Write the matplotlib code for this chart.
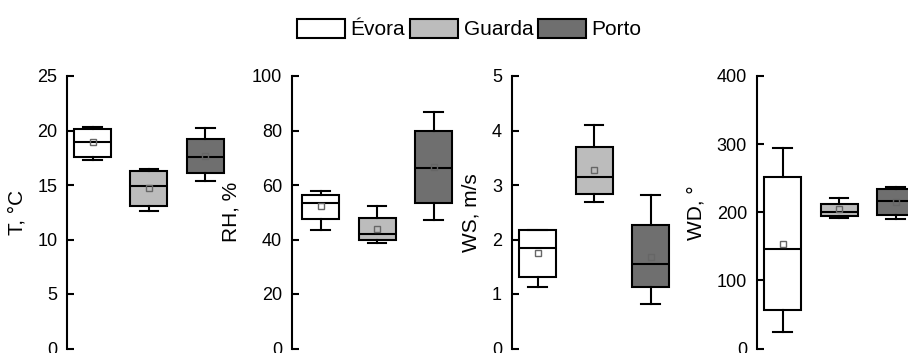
import matplotlib.pyplot as plt
from matplotlib.patches import Patch

plt.rcParams['font.family'] = ['Liberation Sans', 'DejaVu Sans']

sites = ['Évora', 'Guarda', 'Porto']
colors = ['white', '#bcbcbc', '#6f6f6f']

# box stats, order: Évora, Guarda, Porto
t_lo = [17.3, 12.6, 15.4]
t_q1 = [17.6, 13.1, 16.1]
t_med = [18.9, 14.9, 17.6]
t_mean = [18.9, 14.7, 17.7]
t_q3 = [20.1, 16.3, 19.2]
t_hi = [20.3, 16.5, 20.2]

rh_lo = [43.4, 38.8, 47.1]
rh_q1 = [47.7, 40.0, 53.4]
rh_med = [53.4, 42.2, 66.1]
rh_mean = [52.2, 44.0, 66.6]
rh_q3 = [56.4, 48.0, 79.7]
rh_hi = [57.9, 52.2, 86.7]

ws_lo = [1.13, 2.69, 0.81]
ws_q1 = [1.31, 2.84, 1.12]
ws_med = [1.84, 3.15, 1.55]
ws_mean = [1.75, 3.28, 1.68]
ws_q3 = [2.18, 3.70, 2.26]
ws_hi = [2.18, 4.11, 2.81]

wd_lo = [24, 191.7, 189.7]
wd_q1 = [57.2, 195.1, 196.1]
wd_med = [146.7, 200.5, 216.6]
wd_mean = [154, 205.4, 215.2]
wd_q3 = [251.3, 212.2, 234.7]
wd_hi = [294.9, 220.5, 236.7]

ylabels = ['T, °C', 'RH, %', 'WS, m/s', 'WD, °']
ymax = [25, 100, 5, 400]
ystep = [5, 20, 1, 100]

panels = [
    (t_lo, t_q1, t_med, t_mean, t_q3, t_hi),
    (rh_lo, rh_q1, rh_med, rh_mean, rh_q3, rh_hi),
    (ws_lo, ws_q1, ws_med, ws_mean, ws_q3, ws_hi),
    (wd_lo, wd_q1, wd_med, wd_mean, wd_q3, wd_hi),
]

W, H = 908, 353
fig = plt.figure(figsize=(W / 100, H / 100), dpi=100)

spine_x = [67, 291.7, 511.7, 756.7]  # pixel position of each left spine
first_off = [25.5, 29, 26, 26]       # gap spine -> first box, px
step = 56.4                          # px between boxes

for i, (lo, q1, med, mean, q3, hi) in enumerate(panels):
    x0 = 1 - first_off[i] / step
    ax = fig.add_axes([spine_x[i] / W, 4.5 / H, 3.0 * step / W, 272.5 / H])

    stats = []
    for k in range(3):
        stats.append(dict(whislo=lo[k], q1=q1[k], med=med[k], mean=mean[k],
                          q3=q3[k], whishi=hi[k], fliers=[]))

    bp = ax.bxp(stats, positions=[1, 2, 3], widths=0.655, capwidths=0.33,
                patch_artist=True, showmeans=True,
                boxprops=dict(linewidth=1.5, edgecolor='black'),
                medianprops=dict(color='black', linewidth=1.5),
                whiskerprops=dict(color='black', linewidth=1.5),
                capprops=dict(color='black', linewidth=1.5),
                meanprops=dict(marker='s', markersize=5, markerfacecolor='none',
                               markeredgecolor='#666666', markeredgewidth=1))
    for box, c in zip(bp['boxes'], colors):
        box.set_facecolor(c)

    ax.set_xlim(x0, x0 + 3.0)
    ax.set_ylim(0, ymax[i])
    ax.set_yticks(range(0, ymax[i] + 1, ystep[i]) if ystep[i] >= 1 else [])
    ax.set_xticks([])
    for s in ['top', 'right', 'bottom']:
        ax.spines[s].set_visible(False)
    ax.spines['left'].set_linewidth(1.5)
    ax.tick_params(axis='y', direction='in', length=5, width=1.5, labelsize=13, pad=7)
    ax.set_ylabel(ylabels[i], fontsize=15, labelpad=8)
    ax.patch.set_alpha(0)

handles = [Patch(facecolor=c, edgecolor='black', linewidth=1.5, label=s)
           for s, c in zip(sites, colors)]
fig.legend(handles=handles, loc='center', bbox_to_anchor=(469.5 / W, 1 - 29 / H),
           ncol=3, frameon=False, fontsize=15, handlelength=2.3, handleheight=1.05,
           handletextpad=0.25, columnspacing=0.25, borderpad=0)

fig.savefig('out.png', dpi=100)
